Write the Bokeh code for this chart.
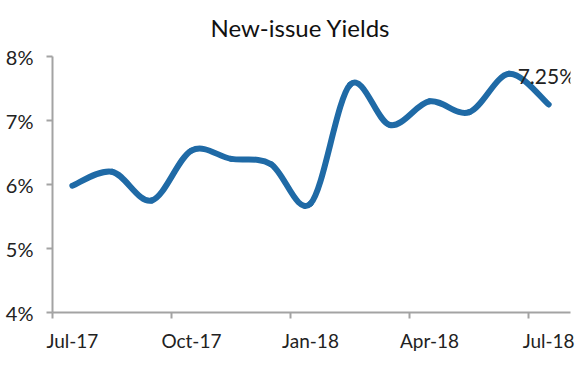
import numpy as np
from bokeh.plotting import figure
from bokeh.models import Range1d, FixedTicker, PrintfTickFormatter, Label
from bokeh.embed import file_html
from bokeh.resources import INLINE

# ---- data ----
months = ["Jul-17", "Aug-17", "Sep-17", "Oct-17", "Nov-17", "Dec-17", "Jan-18",
          "Feb-18", "Mar-18", "Apr-18", "May-18", "Jun-18", "Jul-18"]
yields = [5.98, 6.20, 5.75, 6.53, 6.40, 6.32, 5.70, 7.56, 6.93, 7.30, 7.13, 7.73, 7.25]
x_tick_labels = ["Jul-17", "Oct-17", "Jan-18", "Apr-18", "Jul-18"]
y_ticks = [4, 5, 6, 7, 8]
title_text = "New-issue Yields"

LINE = "#1f6aa6"
AXIS = "#a3a3a3"
FONT = "Lato"

x = np.arange(len(yields), dtype=float)
y = np.array(yields, dtype=float)

# smooth (Catmull-Rom -> cubic Bezier) control points, as Excel's smoothed line
xp = np.concatenate([[x[0]], x, [x[-1]]])
yp = np.concatenate([[y[0]], y, [y[-1]]])
n = len(x)
cx0 = x[:-1] + (xp[2:n + 1] - xp[0:n - 1]) / 6.0
cy0 = y[:-1] + (yp[2:n + 1] - yp[0:n - 1]) / 6.0
cx1 = x[1:] - (xp[3:n + 2] - xp[1:n]) / 6.0
cy1 = y[1:] - (yp[3:n + 2] - yp[1:n]) / 6.0

x_start, x_end = -0.5, len(yields) - 0.45
p = figure(width=587, height=370, output_backend="svg", toolbar_location=None,
           x_range=Range1d(x_start, x_end), y_range=Range1d(y_ticks[0], y_ticks[-1]),
           min_border_left=52, min_border_right=17, min_border_top=56, min_border_bottom=58)

p.bezier(x0=x[:-1], y0=y[:-1], x1=x[1:], y1=y[1:],
         cx0=cx0, cy0=cy0, cx1=cx1, cy1=cy1,
         line_color=LINE, line_width=6, line_cap="round")

# title
p.title.text = title_text
p.title.align = "left"
p.title.offset = 158
p.title.vertical_align = "top"
p.title.text_font = FONT
p.title.text_font_size = "24px"
p.title.text_font_style = "normal"
p.title.text_color = "#111111"
p.title.standoff = 25

# end label
p.add_layout(Label(x=x[-1], y=y[-1], text=f"{yields[-1]:.2f}%", x_offset=-31, y_offset=29,
                   text_align="left", text_baseline="alphabetic",
                   text_font=FONT, text_font_size="21px", text_color="#222222"))

# axes
p.xgrid.visible = False
p.ygrid.visible = False
p.outline_line_color = None

major = [months.index(m) for m in x_tick_labels]
p.xaxis.ticker = FixedTicker(ticks=major, minor_ticks=[m - 0.5 for m in major])
p.xaxis.major_label_overrides = {m: lab for m, lab in zip(major, x_tick_labels)}
p.xaxis.major_tick_out = 0
p.xaxis.major_tick_in = 0
p.xaxis.minor_tick_out = 6
p.xaxis.minor_tick_in = 0
p.xaxis.minor_tick_line_color = AXIS
p.xaxis.minor_tick_line_width = 2
p.xaxis.major_label_standoff = 10
p.xaxis.major_label_text_font_size = "19px"

p.yaxis.ticker = FixedTicker(ticks=y_ticks, minor_ticks=[])
p.yaxis.formatter = PrintfTickFormatter(format="%d%%")
p.yaxis.major_tick_out = 6
p.yaxis.major_tick_in = 0
p.yaxis.major_tick_line_color = AXIS
p.yaxis.major_tick_line_width = 2
p.yaxis.major_label_standoff = 13
p.yaxis.major_label_text_font_size = "20px"

for ax in (p.xaxis[0], p.yaxis[0]):
    ax.axis_line_color = AXIS
    ax.axis_line_width = 2
    ax.major_label_text_font = FONT
    ax.major_label_text_color = "#222222"

open("out.html", "w").write(file_html(p, INLINE))
